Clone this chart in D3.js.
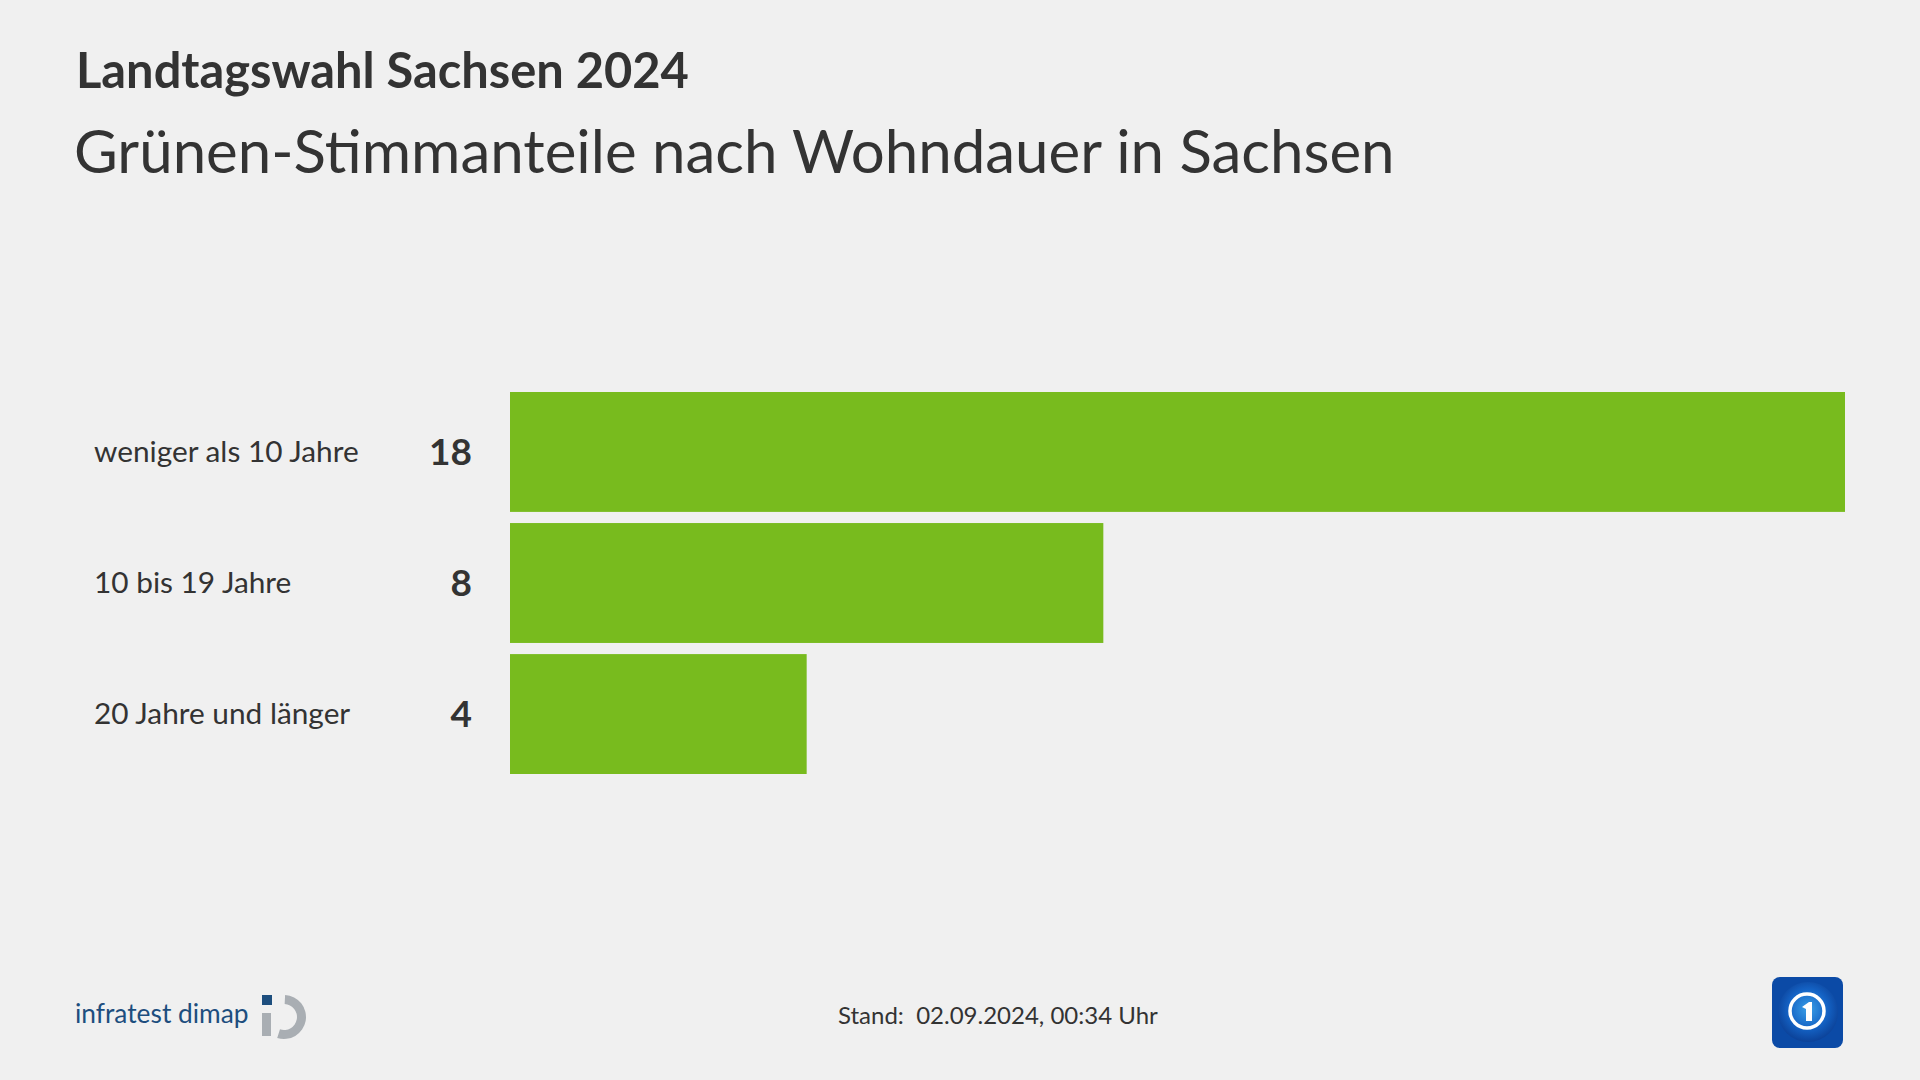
<!DOCTYPE html>
<html><head><meta charset="utf-8">
<script src="https://cdn.jsdelivr.net/npm/d3@7"></script>
<style>html,body{margin:0;padding:0;background:#f0f0f0;overflow:hidden}</style>
</head><body>
<svg id="chart" width="1920" height="1080"></svg>
<script>
const title = "Landtagswahl Sachsen 2024";
const subtitle = "Grünen-Stimmanteile nach Wohndauer in Sachsen";
const categories = ["weniger als 10 Jahre", "10 bis 19 Jahre", "20 Jahre und länger"];
const values = [18, 8, 4];
const footerText = "Stand:\u00a0 02.09.2024, 00:34 Uhr";
const sourceText = "infratest dimap";

const svg = d3.select("#chart");
const font = "Lato, 'Noto Sans', sans-serif";
const textColor = "#333333";

svg.append("rect").attr("width",1920).attr("height",1080).attr("fill","#f0f0f0");

svg.append("text").attr("x",76).attr("y",88).text(title)
  .attr("font-family",font).attr("font-weight",700).attr("font-size",48.8).attr("fill",textColor);
svg.append("text").attr("x",74).attr("y",173).text(subtitle)
  .attr("font-family",font).attr("font-weight",400).attr("font-size",60).attr("fill",textColor);

const x = d3.scaleLinear().domain([0, d3.max(values)]).range([510, 1845]);
const y = d3.scaleBand().domain(categories).range([392, 774]).paddingInner(0.085).paddingOuter(0);

const rows = svg.append("g").selectAll("g").data(categories).join("g");
rows.append("rect")
  .attr("x", x(0))
  .attr("y", d => y(d))
  .attr("width", (d,i) => x(values[i]) - x(0))
  .attr("height", y.bandwidth())
  .attr("fill", "#78bb1e");
rows.append("text")
  .attr("x", 94).attr("y", d => y(d) + y.bandwidth()/2)
  .attr("dy","0.35em")
  .text(d => d)
  .attr("font-family",font).attr("font-size",29.8).attr("fill",textColor);
rows.append("text")
  .attr("x", 472).attr("y", d => y(d) + y.bandwidth()/2)
  .attr("dy","0.35em").attr("text-anchor","end")
  .text((d,i) => values[i])
  .attr("font-family",font).attr("font-weight",700).attr("font-size",37).attr("fill",textColor);

// footer
svg.append("text").attr("x",838).attr("y",1024).text(footerText)
  .attr("font-family",font).attr("font-size",24).attr("fill",textColor);

svg.append("text").attr("x",75).attr("y",1023).text(sourceText)
  .attr("font-family",font).attr("font-size",26.3).attr("fill","#1d4e7e");
// infratest icon
const ic = svg.append("g").attr("transform","translate(284,1017)");
const arc = d3.arc().innerRadius(13).outerRadius(22);
ic.append("path").attr("d", arc({startAngle: 0.05, endAngle: Math.PI*1.1})).attr("fill","#a9aeb3");
ic.append("rect").attr("x",-22).attr("y",-4).attr("width",9).attr("height",23).attr("fill","#a9aeb3");
ic.append("rect").attr("x",-22).attr("y",-22).attr("width",10).attr("height",10).attr("fill","#1d4e7e");

// ARD logo
const defs = svg.append("defs");
const rg = defs.append("radialGradient").attr("id","glob").attr("cx","50%").attr("cy","45%").attr("r","60%");
rg.append("stop").attr("offset","0%").attr("stop-color","#3aa0e8");
rg.append("stop").attr("offset","55%").attr("stop-color","#1462c4");
rg.append("stop").attr("offset","100%").attr("stop-color","#0a3a8e");
const lg = svg.append("g").attr("transform","translate(1772,977)");
lg.append("rect").attr("width",71).attr("height",71).attr("rx",8).attr("fill","#0b4aa6");
lg.append("circle").attr("cx",36).attr("cy",35).attr("r",30).attr("fill","url(#glob)");
lg.append("circle").attr("cx",35).attr("cy",34).attr("r",17).attr("fill","none").attr("stroke","#ffffff").attr("stroke-width",3.5);
lg.append("path").attr("d","M30,30 L37,25 L40,25 L40,44 L34,44 L34,32 Z").attr("fill","#ffffff");
</script>
</body></html>
